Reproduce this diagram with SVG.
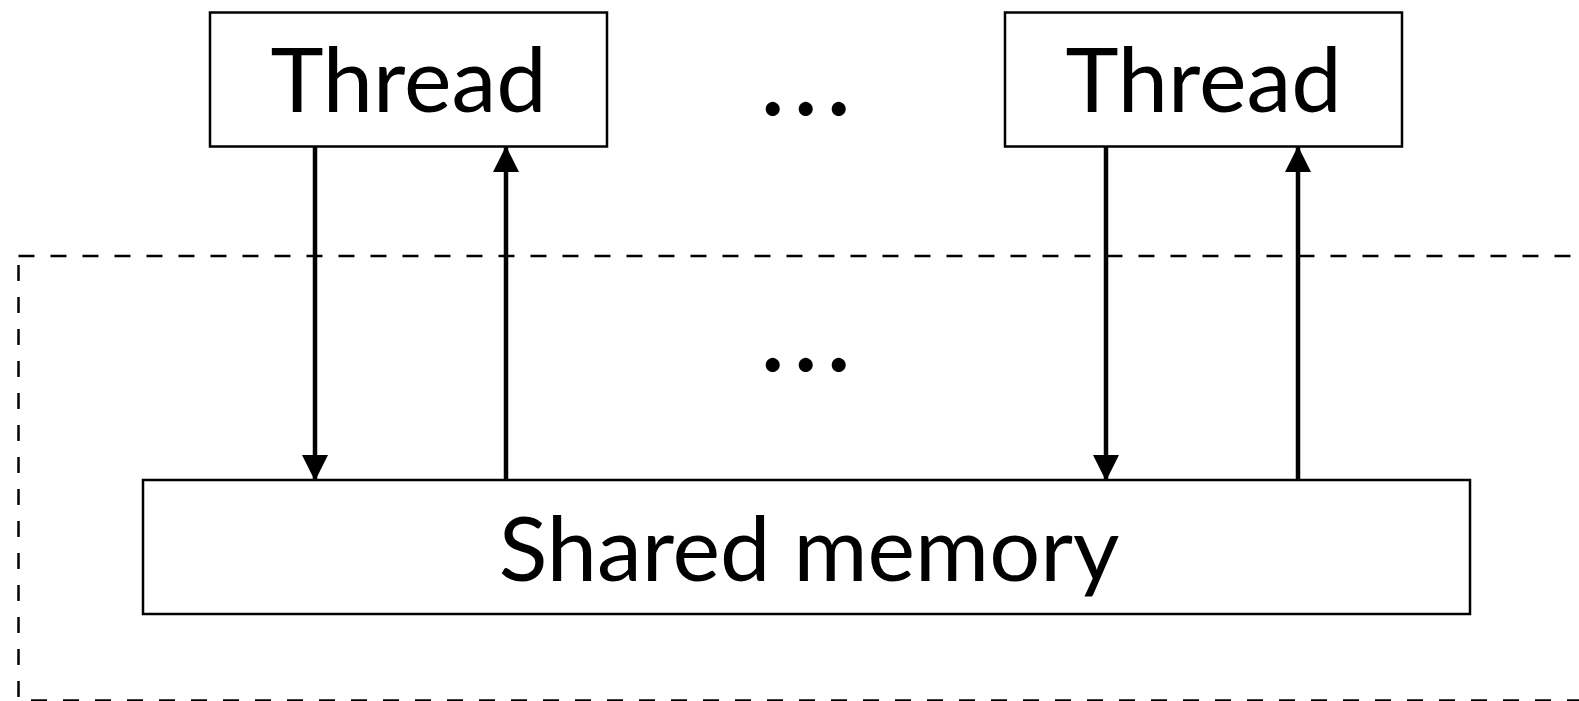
<svg xmlns="http://www.w3.org/2000/svg" width="1579" height="701" viewBox="0 0 1579 701">
<style>
.box{fill:#fff;stroke:#000;stroke-width:2.5}
.lbl{font-family:Lato,"Open Sans",sans-serif;font-size:90px;fill:#000;text-anchor:middle}
.dots{font-size:112px;letter-spacing:6.5px}
.conn{stroke:#000;stroke-width:4.5;fill:none}
.frame{fill:none;stroke:#000;stroke-width:2.5;stroke-dasharray:16 16}
</style>
<defs>
<marker id="ah" markerUnits="userSpaceOnUse" markerWidth="26" markerHeight="26" viewBox="0 0 26 26" refX="25" refY="13" orient="auto">
<path d="M0,0 L26,13 L0,26 z" fill="#000"/>
</marker>
</defs>
<rect id="frame" class="frame" x="18.5" y="256" width="1600" height="444.5"/>
<g id="connectors">
<line class="conn" x1="315" y1="147" x2="315" y2="480" marker-end="url(#ah)"/>
<line class="conn" x1="506" y1="480" x2="506" y2="147" marker-end="url(#ah)"/>
<line class="conn" x1="1106" y1="147" x2="1106" y2="480" marker-end="url(#ah)"/>
<line class="conn" x1="1298" y1="480" x2="1298" y2="147" marker-end="url(#ah)"/>
</g>
<g id="thread1">
<rect class="box" x="210" y="12.5" width="397" height="134"/>
<text class="lbl" x="408.5" y="112">Thread</text>
</g>
<g id="thread2">
<rect class="box" x="1005" y="12.5" width="397" height="134"/>
<text class="lbl" x="1203.5" y="112">Thread</text>
</g>
<g id="ellipsis1"><text class="lbl dots" x="809" y="114.5">...</text></g>
<g id="ellipsis2"><text class="lbl dots" x="809" y="370.5">...</text></g>
<g id="memory">
<rect class="box" x="143" y="480" width="1327" height="134"/>
<text class="lbl" x="809" y="581">Shared memory</text>
</g>
</svg>
